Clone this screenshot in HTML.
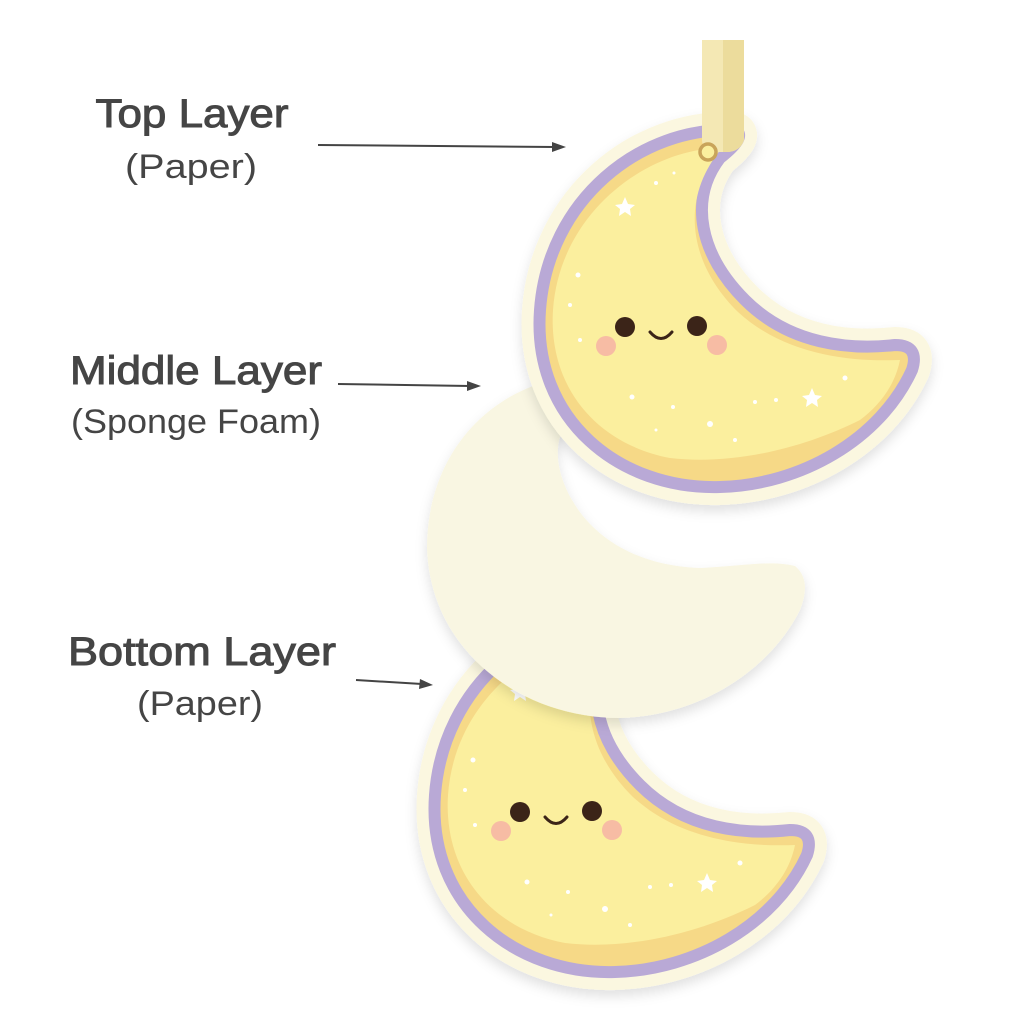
<!DOCTYPE html>
<html><head><meta charset="utf-8"><style>html,body{margin:0;padding:0;background:#fff}svg{display:block}</style></head>
<body>
<svg width="1024" height="1024" viewBox="0 0 1024 1024" xmlns="http://www.w3.org/2000/svg">
<defs>
<path id="moon" d="M735,130 C640,126 548,200 540,310 C532,420 620,490 720,487 C800,485 880,440 912,370 Q920,345 895,345 C850,350 790,345 745,300 C700,255 688,200 720,158 Q748,136 735,130 Z"/>
<filter id="sh" x="-10%" y="-10%" width="120%" height="130%"><feDropShadow dx="0" dy="6" stdDeviation="6" flood-color="#000" flood-opacity="0.12"/></filter>
<g id="moonfull">
  <use href="#moon" fill="#fbf7e0" stroke="#fbf7e0" stroke-width="36" stroke-linejoin="round" filter="url(#sh)"/>
  <use href="#moon" fill="#f6d987" stroke="#b9a9d6" stroke-width="12" stroke-linejoin="round"/>
  <path d="M722,148 C650,148 560,210 553,310 C548,390 600,445 670,458 C730,465 800,450 860,420 C880,405 895,385 900,360 C850,362 785,355 738,312 C690,265 678,200 722,148 Z" fill="#fbef9e"/>
  <g fill="#fff">
    <polygon points="625,197 628,204 635,205 630,209 631,216 625,212 619,216 620,209 615,205 622,204"/>
    <polygon points="812,388 815,395 822,396 817,400 818,407 812,403 806,407 807,400 802,396 809,395"/>
    <circle cx="578" cy="275" r="2.5"/><circle cx="570" cy="305" r="2"/><circle cx="656" cy="183" r="2"/><circle cx="674" cy="173" r="1.5"/>
    <circle cx="580" cy="340" r="2"/><circle cx="632" cy="397" r="2.5"/><circle cx="673" cy="407" r="2"/><circle cx="710" cy="424" r="3"/>
    <circle cx="755" cy="402" r="2"/><circle cx="776" cy="400" r="2"/><circle cx="845" cy="378" r="2.5"/><circle cx="735" cy="440" r="2"/><circle cx="656" cy="430" r="1.5"/>
  </g>
  <circle cx="625" cy="327" r="10" fill="#3b2418"/>
  <circle cx="697" cy="326" r="10" fill="#3b2418"/>
  <path d="M650,332 Q661,345 672,332" fill="none" stroke="#3b2418" stroke-width="3" stroke-linecap="round"/>
  <circle cx="606" cy="346" r="10" fill="#f6b3a5" opacity="0.85"/>
  <circle cx="717" cy="345" r="10" fill="#f6b3a5" opacity="0.85"/>
</g>
</defs>

<g transform="translate(-105,485)"><use href="#moonfull"/></g>

<path d="M533,386 C470,410 427,470 427,548 C430,650 520,718 620,718 C700,716 770,670 800,610 Q812,580 795,566 C770,560 745,566 700,568 C640,566 595,540 572,500 C555,470 555,445 563,430 Q560,395 533,386 Z" fill="#f9f6e2" filter="url(#sh)"/>

<use href="#moonfull"/>
<path d="M702,40 L744,40 L744,140 Q740,152 726,152 L716,152 Q702,150 702,140 Z" fill="#f4e8b4"/>
<path d="M723,40 L744,40 L744,140 Q740,152 726,152 L723,152 Z" fill="#ecdc9c"/>
<circle cx="708" cy="152" r="8" fill="#fbef9e" stroke="#c9a45a" stroke-width="3.5"/>

<g stroke="#444" stroke-width="2" fill="#444">
<line x1="318" y1="145" x2="555" y2="147"/>
<polygon points="566,147 552,142 552,152" stroke="none"/>
<line x1="338" y1="384" x2="470" y2="386"/>
<polygon points="481,386 467,381 467,391" stroke="none"/>
<line x1="356" y1="680" x2="422" y2="684"/>
<polygon points="433,685 420,679 419,689" stroke="none"/>
</g>

<g font-family="Liberation Sans, sans-serif" fill="#454545" text-anchor="middle">
<g stroke="#454545" stroke-width="1">
<text x="192" y="127" font-size="40" textLength="193" lengthAdjust="spacingAndGlyphs">Top Layer</text>
<text x="196" y="384" font-size="40" textLength="252" lengthAdjust="spacingAndGlyphs">Middle Layer</text>
<text x="202" y="665" font-size="40" textLength="268" lengthAdjust="spacingAndGlyphs">Bottom Layer</text>
</g>
<text x="191" y="178" font-size="34" textLength="132" lengthAdjust="spacingAndGlyphs">(Paper)</text>
<text x="196" y="433" font-size="34" textLength="250" lengthAdjust="spacingAndGlyphs">(Sponge Foam)</text>
<text x="200" y="715" font-size="34" textLength="126" lengthAdjust="spacingAndGlyphs">(Paper)</text>
</g>
</svg>
</body></html>
